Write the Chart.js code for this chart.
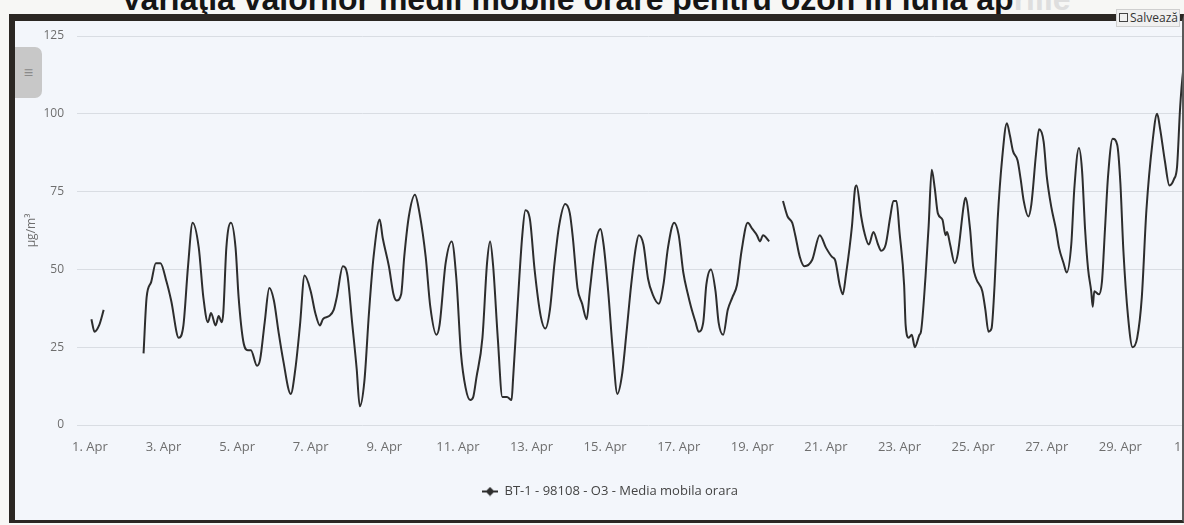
<!DOCTYPE html>
<html>
<head>
<meta charset="utf-8">
<script src="https://cdn.jsdelivr.net/npm/chart.js@4.4.1/dist/chart.umd.min.js"></script>
<style>
  html, body { margin: 0; padding: 0; }
  body { width: 1184px; height: 525px; overflow: hidden; background: #f7f7f5; position: relative; font-family: 'Open Sans', sans-serif; }
  #title { position: absolute; left: 121px; top: -17px; font: bold 32px/32px 'Liberation Sans', Arial, sans-serif; color: #151515; white-space: nowrap; }
  #title span { color: #dedede; }
  #frame { position: absolute; left: 9px; top: 14px; width: 1175px; height: 509px; box-sizing: border-box;
           border-top: 7px solid #2b2723; border-left: 6px solid #2b2723; border-bottom: 3px solid #2b2723; border-right: 2px solid #5a5a5a;
           background: #f3f6fb; overflow: hidden; }
  #chart { position: absolute; left: -15px; top: -21px; }
  #menu { position: absolute; left: 0; top: 26px; width: 27px; height: 51px; background: #c8c8c8; border-radius: 0 7px 7px 0; color: #8a8a8a; font-size: 16px; line-height: 51px; text-align: center; }
  #save { position: absolute; left: 1116px; top: 9px; width: 62px; height: 16px; background: #f0f0f0; border: 1px solid #cfcfcf; color: #333; font-size: 12px; line-height: 16px; white-space: nowrap; z-index: 3; }
  #save i { display: inline-block; width: 7px; height: 7px; border: 1px solid #444; margin: 0 2px 0 2px; vertical-align: 0; }
</style>
</head>
<body>
<div id="title">Variaţia valorilor medii mobile orare pentru ozon în luna ap<span>rilie</span></div>
<div id="frame">
  <canvas id="chart" width="1260" height="525"></canvas>
  <div id="menu">≡</div>
</div>
<div id="save"><i></i>Salvează</div>
<script>
// hours since 1 Apr 00:00, value in µg/m³
const segApr1 = [[1,34],[3,30],[6,32],[9,37]];
const segApr2to19 = [
  [35,23],[37,41],[40,46],[43,52],[46,52],[50,46],[53,40],[58,28],[61,32],[64,51],
  [67,65],[71,57],[74,41],[77,33],[79,36],[82,32],[84,35],[86,33],[87,36],[89,57],
  [92,65],[95,57],[97,41],[100,27],[103,24],[105,24],[109,19],[111,21],[114,33],[117,44],
  [120,40],[123,30],[126,21],[131,10],[134,18],[137,32],[140,48],[144,43],[147,36],[150,32],
  [152,34],[156,35],[159,37],[161,41],[165,51],[168,48],[171,33],[174,18],[176,6],[179,14],
  [182,36],[185,54],[189,66],[191,60],[195,51],[198,42],[200,40],[203,42],[205,54],[208,67],
  [212,74],[215,68],[219,54],[222,38],[226,29],[228,32],[232,52],[236,59],[239,47],[242,23],
  [245,12],[248,8],[250,9],[252,15],[256,28],[259,52],[261,59],[263,51],[266,28],[269,9],
  [272,9],[275,8],[276,15],[279,39],[282,61],[284,69],[287,66],[290,50],[294,35],[297,31],
  [300,37],[303,52],[306,64],[310,71],[313,68],[315,60],[318,44],[321,39],[324,34],[326,43],
  [330,59],[333,63],[335,58],[338,43],[341,24],[344,10],[347,16],[350,30],[353,45],[356,57],
  [358,61],[361,58],[364,47],[367,42],[371,39],[374,45],[377,57],[381,65],[384,61],[387,49],
  [390,42],[392,38],[395,33],[397,30],[400,33],[402,45],[405,50],[408,43],[410,33],[413,29],
  [416,37],[419,41],[422,45],[425,56],[429,65],[432,63],[435,61],[437,59],[439,61],[443,59]
];
const segApr19to30 = [
  [452,72],[455,67],[458,65],[460,61],[463,54],[466,51],[471,53],[476,61],[480,57],[484,54],
  [486,53],[489,45],[491,42],[493,48],[497,64],[499,76],[500,77],[503,67],[505,62],[508,58],
  [511,62],[514,58],[516,56],[519,58],[522,67],[524,72],[526,72],[528,62],[531,45],[532,32],
  [534,28],[536,29],[538,25],[541,29],[542,30],[545,48],[547,64],[549,82],[551,76],[553,68],
  [556,66],[558,61],[559,62],[561,58],[564,52],[566,55],[570,71],[571,73],[574,63],[576,51],
  [578,47],[582,43],[584,37],[586,30],[588,31],[590,45],[592,66],[595,86],[598,97],[600,93],
  [602,88],[605,85],[607,79],[609,72],[612,67],[614,71],[617,87],[619,95],[622,91],[624,80],
  [627,70],[630,63],[632,57],[635,52],[637,49],[640,58],[642,76],[645,89],[647,82],[649,63],
  [651,50],[653,43],[654,38],[655,43],[658,42],[660,46],[662,63],[664,80],[667,92],[670,90],
  [672,78],[674,56],[677,35],[680,25],[683,28],[686,41],[689,69],[693,91],[696,100],[698,95],
  [701,85],[704,77],[707,79],[709,83],[711,102],[713,114],[715,120]
];
const gapHours = [20, 447];   // no data: line breaks here

const tickHours = [0,48,96,144,192,240,288,336,384,432,480,528,576,624,672,720];
const tickLabels = ['1. Apr','3. Apr','5. Apr','7. Apr','9. Apr','11. Apr','13. Apr','15. Apr',
                    '17. Apr','19. Apr','21. Apr','23. Apr','25. Apr','27. Apr','29. Apr','1. May'];
const yTicks = [0, 25, 50, 75, 100, 125];

const toPts = seg => seg.map(p => ({x: p[0], y: p[1]}));
const points = [
  ...toPts(segApr1), {x: gapHours[0], y: null},
  ...toPts(segApr2to19), {x: gapHours[1], y: null},
  ...toPts(segApr19to30)
];

// legend symbol: line with a diamond
const marker = document.createElement('canvas');
marker.width = 16; marker.height = 10;
const m = marker.getContext('2d');
m.strokeStyle = '#2d2d2d'; m.lineWidth = 2;
m.beginPath(); m.moveTo(0, 5); m.lineTo(16, 5); m.stroke();
m.fillStyle = '#2d2d2d';
m.beginPath(); m.moveTo(8, 0.5); m.lineTo(12.5, 5); m.lineTo(8, 9.5); m.lineTo(3.5, 5); m.closePath(); m.fill();

Chart.defaults.font.family = "'Open Sans', sans-serif";

new Chart(document.getElementById('chart'), {
  type: 'line',
  data: {
    datasets: [{
      label: 'BT-1 - 98108 - O3 - Media mobila orara',
      data: points,
      borderColor: '#2d2d2d',
      borderWidth: 2,
      pointRadius: 0,
      cubicInterpolationMode: 'monotone',
      spanGaps: false,
      fill: false,
    }]
  },
  options: {
    responsive: false,
    animation: false,
    layout: { padding: { top: 36, right: 40, bottom: 17, left: 0 } },
    scales: {
      x: {
        type: 'linear',
        min: -8.4,
        max: 737,
        grid: { display: false },
        border: { display: false },
        afterBuildTicks: s => { s.ticks = tickHours.map(v => ({value: v})); },
        afterFit: s => { s.height = 50; },
        ticks: {
          padding: 6, color: '#6e6e6e', font: { size: 13 }, maxRotation: 0, autoSkip: false,
          callback: (v, i) => tickLabels[i]
        }
      },
      y: {
        min: 0,
        max: 125,
        afterBuildTicks: s => { s.ticks = yTicks.map(v => ({value: v})); },
        afterFit: s => { s.width = 77; },
        grid: { color: '#d9dde3', drawTicks: false },
        border: { display: false },
        ticks: { padding: 13, color: '#6e6e6e', font: { size: 12 } },
        title: { display: true, text: 'µg/m³', color: '#6e6e6e', font: { size: 12 }, padding: { top: 24, bottom: 0 } }
      }
    },
    plugins: {
      legend: {
        position: 'bottom',
        labels: { usePointStyle: true, pointStyle: marker, pointStyleWidth: 16, boxHeight: 12, color: '#444', font: { size: 13 }, padding: 10 }
      },
      tooltip: { enabled: false }
    }
  }
});
</script>
</body>
</html>
